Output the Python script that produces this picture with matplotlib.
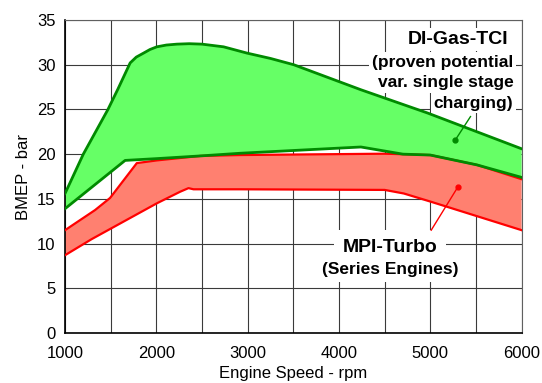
import matplotlib
matplotlib.use("Agg")
import matplotlib.pyplot as plt

plt.rcParams['font.family'] = ['Liberation Sans', 'DejaVu Sans']

# DI-Gas-TCI band
di_upper_rpm = [1000, 1200, 1470, 1580, 1713, 1780, 1860, 1930, 2005, 2110, 2225, 2360, 2500,
                2736, 2992, 3250, 3504, 4240, 4970, 6000]
di_upper_bmep = [15.6, 20.0, 25.0, 27.3, 30.2, 30.85, 31.3, 31.7, 32.0, 32.2, 32.3, 32.35, 32.3,
                 32.0, 31.3, 30.7, 30.0, 27.2, 24.6, 20.6]
di_lower_rpm = [1000, 1658, 2005, 2480, 2919, 4240, 4700, 5000, 5510, 6000]
di_lower_bmep = [13.9, 19.3, 19.5, 19.8, 20.1, 20.8, 20.0, 19.9, 18.8, 17.4]

# MPI-Turbo band
mpi_upper_rpm = [1000, 1329, 1493, 1786, 2005, 2480, 2919, 4500, 5000, 5510, 6000]
mpi_upper_bmep = [11.5, 13.75, 15.1, 19.0, 19.3, 19.8, 19.9, 20.05, 19.9, 18.8, 17.2]
mpi_lower_rpm = [1000, 1292, 2005, 2261, 2352, 2407, 2919, 4500, 4710, 5000, 6000]
mpi_lower_bmep = [8.7, 10.5, 14.5, 15.8, 16.2, 16.07, 16.07, 16.0, 15.6, 14.7, 11.5]

x_ticks = [1000, 2000, 3000, 4000, 5000, 6000]
y_ticks = [0, 5, 10, 15, 20, 25, 30, 35]

fig = plt.figure(figsize=(5.42, 3.83), dpi=100)
ax = fig.add_axes([0.120, 0.1305, 0.8424, 0.8173])
ax.set_xlim(1000, 6000)
ax.set_ylim(0, 35)
ax.set_xticks(x_ticks)
ax.set_xticks(range(1000, 6001, 500), minor=True)
ax.set_yticks(y_ticks)
ax.set_axisbelow(True)
ax.grid(True, which='both', color='#3a3a3a', lw=0.8, zorder=0.5)
ax.tick_params(which='both', length=0, labelsize=12)
ax.tick_params(axis='x', pad=9)
ax.tick_params(axis='y', pad=7)
for s in ['top', 'right']:
    ax.spines[s].set_color('#606060')
    ax.spines[s].set_linewidth(0.8)
for s in ['left', 'bottom']:
    ax.spines[s].set_color('black')
    ax.spines[s].set_linewidth(1.2)

ax.set_xlabel('Engine Speed - rpm', fontsize=12, labelpad=4)
ax.set_ylabel('BMEP - bar', fontsize=12, labelpad=4)

# bands
ax.fill(di_upper_rpm + di_lower_rpm[::-1], di_upper_bmep + di_lower_bmep[::-1],
        color='#66ff66', lw=0, zorder=2)
ax.fill(mpi_upper_rpm + mpi_lower_rpm[::-1], mpi_upper_bmep + mpi_lower_bmep[::-1],
        color='#ff8070', lw=0, zorder=2.1)
ax.plot(mpi_upper_rpm, mpi_upper_bmep, color='#ff0000', lw=1.6, zorder=3)
ax.plot(mpi_lower_rpm, mpi_lower_bmep, color='#ff0000', lw=1.6, zorder=3)
ax.plot(di_upper_rpm, di_upper_bmep, color='#008a00', lw=2.0, zorder=3.2)
ax.plot(di_lower_rpm, di_lower_bmep, color='#008a00', lw=2.0, zorder=3.1)

# annotations
box = dict(facecolor='white', edgecolor='none', pad=2)
ax.text(5850, 32.8, 'DI-Gas-TCI', fontsize=14, fontweight='bold', ha='right', va='center',
        bbox=box, zorder=1)
ax.text(5910, 30.3, '(proven potential', fontsize=12.5, fontweight='bold', ha='right',
        va='center', bbox=box, zorder=1)
ax.text(5910, 28.0, 'var. single stage', fontsize=12.5, fontweight='bold', ha='right',
        va='center', bbox=box, zorder=1)
ax.text(5910, 25.7, 'charging)', fontsize=12.5, fontweight='bold', ha='right', va='center',
        bbox=box, zorder=1)

ax.text(4560, 9.6, 'MPI-Turbo', fontsize=14, fontweight='bold', ha='center', va='center',
        bbox=dict(facecolor='white', edgecolor='none', boxstyle='square,pad=0.45'), zorder=1)
ax.text(4560, 7.1, '(Series Engines)', fontsize=12.5, fontweight='bold', ha='center',
        va='center', bbox=dict(facecolor='white', edgecolor='none', boxstyle='square,pad=0.3'),
        zorder=1)

ax.plot([5440, 5275], [24.2, 21.6], color='#008a00', lw=1.0, zorder=4)
ax.plot([5275], [21.6], 'o', color='#008a00', ms=3.5, zorder=4)
ax.plot([5010, 5300], [11.5, 16.3], color='#ff0000', lw=1.0, zorder=4)
ax.plot([5300], [16.3], 'o', color='#ff0000', ms=3.5, zorder=4)

fig.savefig('out.png', dpi=100)
